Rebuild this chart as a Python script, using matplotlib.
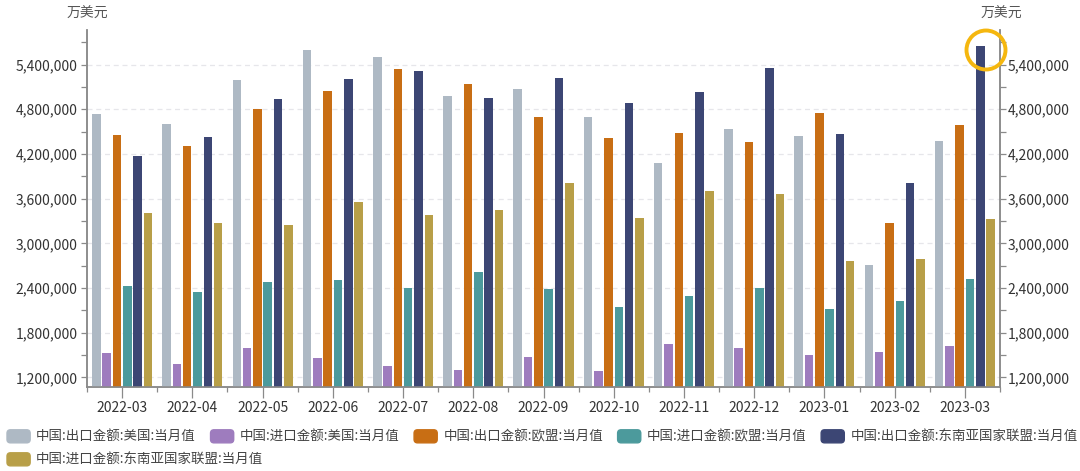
import matplotlib
matplotlib.use("Agg")
import matplotlib.pyplot as plt
import numpy as np
from matplotlib.legend_handler import HandlerPatch
from matplotlib.patches import FancyBboxPatch, Patch, Ellipse
from matplotlib.ticker import MultipleLocator, FuncFormatter, FixedLocator

plt.rcParams['font.family'] = ['Noto Sans CJK SC', 'DejaVu Sans']

months = ['2022-03', '2022-04', '2022-05', '2022-06', '2022-07', '2022-08', '2022-09',
          '2022-10', '2022-11', '2022-12', '2023-01', '2023-02', '2023-03']

exp_us = [4732000, 4598000, 5188000, 5590000, 5496000, 4973000, 5067000, 4691000, 4075000, 4531000, 4437000, 2707000, 4370000]
imp_us = [1527000, 1380000, 1594000, 1460000, 1353000, 1300000, 1474000, 1286000, 1648000, 1594000, 1500000, 1540000, 1621000]
exp_eu = [4450000, 4303000, 4799000, 5040000, 5335000, 5134000, 4691000, 4410000, 4477000, 4356000, 4745000, 3270000, 4584000]
imp_eu = [2425000, 2345000, 2479000, 2506000, 2399000, 2613000, 2385000, 2144000, 2291000, 2399000, 2117000, 2224000, 2519000]
exp_asean = [4169000, 4423000, 4933000, 5201000, 5308000, 4946000, 5214000, 4879000, 5027000, 5348000, 4464000, 3807000, 5643000]
imp_asean = [3404000, 3270000, 3243000, 3552000, 3377000, 3445000, 3807000, 3337000, 3699000, 3659000, 2761000, 2787000, 3324000]

series = [exp_us, imp_us, exp_eu, imp_eu, exp_asean, imp_asean]
labels = ['中国:出口金额:美国:当月值', '中国:进口金额:美国:当月值', '中国:出口金额:欧盟:当月值',
          '中国:进口金额:欧盟:当月值', '中国:出口金额:东南亚国家联盟:当月值', '中国:进口金额:东南亚国家联盟:当月值']
colors = ['#AEB9C4', '#9E7CBE', '#C86E14', '#4C9A9C', '#3C4674', '#B89F48']

W, H = 1080, 471
fig = plt.figure(figsize=(W / 100, H / 100), dpi=100, facecolor='white')
ax = fig.add_axes([87 / W, 1 - 387 / H, (1000 - 87) / W, (387 - 30) / H])

x = np.arange(len(months)) + 0.5
step, bw = 0.1467, 0.122
for i, (vals, c) in enumerate(zip(series, colors)):
    ax.bar(x + (i - 2.5) * step, vals, width=bw, color=c, label=labels[i], zorder=3)

ymin, ymax = 1072000, 5863000
ax.set_xlim(0, len(months))
ax.set_ylim(ymin, ymax)

axis_c = '#8A8A8A'
text_c = '#333333'
fmt = FuncFormatter(lambda v, _: f'{int(v):,}')
yticks = np.arange(1200000, 5400001, 600000)

ax.yaxis.set_major_locator(FixedLocator(yticks))
ax.yaxis.set_minor_locator(MultipleLocator(300000))
ax.yaxis.set_major_formatter(fmt)
ax.set_xticks(x)
ax.set_xticklabels(months)
ax.set_xticks(np.arange(len(months) + 1), minor=True)
ax.grid(axis='y', which='major', color='#E6E6EA', linestyle=(0, (4, 3)), linewidth=0.9, zorder=0)
ax.set_axisbelow(True)

ax.tick_params(axis='y', which='both', length=4.5, width=0.9, color=axis_c, labelsize=10, labelcolor=text_c, pad=2.5)
ax.tick_params(axis='x', which='major', length=8, width=0.9, color=axis_c, labelsize=10, labelcolor=text_c, pad=2)
ax.tick_params(axis='x', which='minor', length=3.5, width=0.9, color=axis_c)

ax2 = ax.twinx()
ax2.set_ylim(ymin, ymax)
ax2.yaxis.set_major_locator(FixedLocator(yticks))
ax2.yaxis.set_minor_locator(MultipleLocator(300000))
ax2.yaxis.set_major_formatter(fmt)
ax2.tick_params(axis='y', which='both', length=4.5, width=0.9, color=axis_c, labelsize=10, labelcolor=text_c, pad=1)

for a in (ax, ax2):
    a.spines['top'].set_visible(False)
    for s in ('left', 'right', 'bottom'):
        a.spines[s].set_color(axis_c)
        a.spines[s].set_linewidth(1.1)

fig.text(87 / W, 1 - 14 / H, '万美元', ha='center', va='center', fontsize=10, color='#555555')
fig.text(1001 / W, 1 - 14 / H, '万美元', ha='center', va='center', fontsize=10, color='#555555')

# highlight ring
fig.add_artist(Ellipse((986 / W, 1 - 50 / H), 39 / W, 39 / H, transform=fig.transFigure,
                       fill=False, edgecolor='#F5B70F', linewidth=2.8, zorder=10))


def round_swatch(legend, orig_handle, xdescent, ydescent, width, height, fontsize):
    # 23 x 13 px rounded swatch, lowered to sit level with the CJK text
    return FancyBboxPatch((xdescent + 2, ydescent - 1.0), width - 4, 9.4 - 4,
                          boxstyle='round,pad=2,rounding_size=2.5', mutation_aspect=1)


handles = [Patch(color=c, label=l) for c, l in zip(colors, labels)]
common = dict(frameon=False, fontsize=9.7, labelcolor='#444444', handlelength=1.72, handleheight=0.98,
              handletextpad=0.45, borderpad=0, borderaxespad=0,
              handler_map={Patch: HandlerPatch(patch_func=round_swatch)})
fig.legend(handles=handles[:5], loc='center left', bbox_to_anchor=(7 / W, 1 - 436 / H), ncol=5,
           columnspacing=1.08, **common)
fig.legend(handles=handles[5:], loc='center left', bbox_to_anchor=(7 / W, 1 - 459 / H), ncol=1, **common)

fig.savefig('out.png', dpi=100, facecolor='white')
